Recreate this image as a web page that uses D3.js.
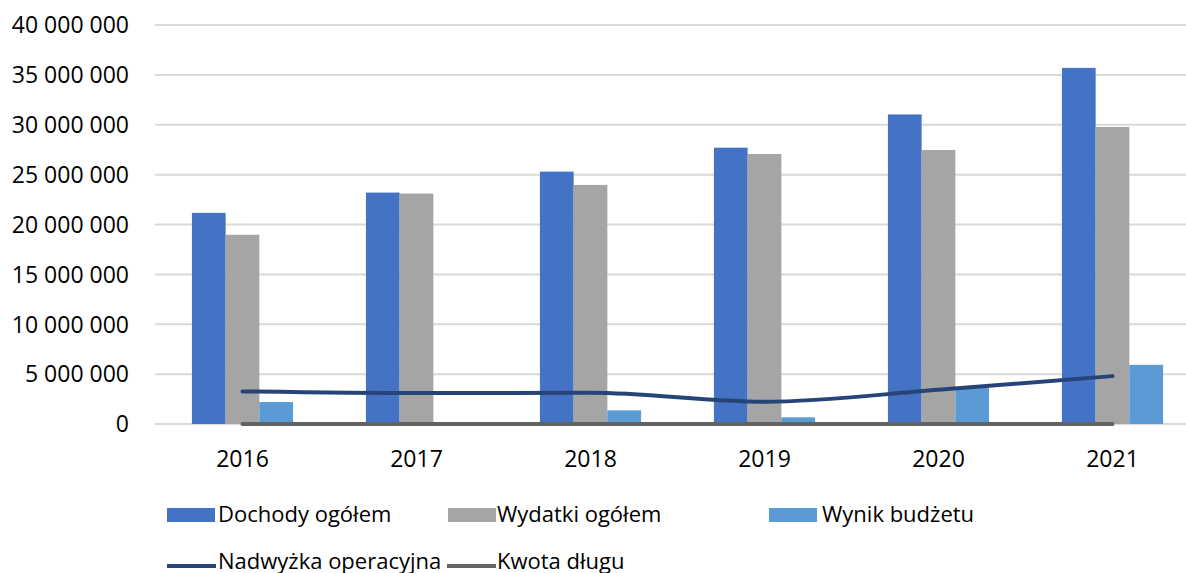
<!DOCTYPE html>
<html>
<head>
<meta charset="utf-8">
<script src="https://cdn.jsdelivr.net/npm/d3@7"></script>
<style>
  body { margin: 0; background: #fff; }
  text { font-family: "Open Sans", sans-serif; fill: #000; }
</style>
</head>
<body>
<div id="vis"></div>
<script>
var years = ['2016', '2017', '2018', '2019', '2020', '2021'];
var dochody = [21170000, 23200000, 25300000, 27700000, 31030000, 35700000];
var wydatki = [18970000, 23100000, 23970000, 27070000, 27470000, 29770000];
var wynik = [2200000, 0, 1370000, 670000, 3630000, 5930000];
var nadwyzka = [3270000, 3100000, 3130000, 2230000, 3430000, 4800000];
var kwotaDlugu = [0, 0, 0, 0, 0, 0];
var yTicks = [0, 5000000, 10000000, 15000000, 20000000, 25000000, 30000000, 35000000, 40000000];

var barSeries = [
    { name: 'Dochody ogółem', values: dochody, color: '#4472C4' },
    { name: 'Wydatki ogółem', values: wydatki, color: '#A5A5A5' },
    { name: 'Wynik budżetu', values: wynik, color: '#5B9BD5' }
];
var lineSeries = [
    { name: 'Nadwyżka operacyjna', values: nadwyzka, color: '#264478' },
    { name: 'Kwota długu', values: kwotaDlugu, color: '#636363' }
];

var width = 1186;
var height = 573;

var svg = d3.select('#vis')
            .append('svg')
            .attr('width', width)
            .attr('height', height);

var xScale = d3.scaleBand()
                .domain(years)
                .range([155.5, 1199.5]);

var x1 = d3.scaleBand()
            .domain(barSeries.map(function(d) { return d.name; }))
            .range([0, xScale.bandwidth()])
            .paddingOuter(1.08);

var yScale = d3.scaleLinear()
                .domain([0, 40000000])
                .range([424, 25]);

var fmt = function(v) { return d3.format(',')(v).replace(/,/g, ' '); };

// gridlines
svg.append('g')
    .selectAll('line')
    .data(yTicks)
    .enter()
    .append('line')
    .attr('x1', 155)
    .attr('x2', width)
    .attr('y1', function(d) { return yScale(d); })
    .attr('y2', function(d) { return yScale(d); })
    .attr('stroke', '#D9D9D9')
    .attr('stroke-width', 2);

// y axis labels
svg.append('g')
    .selectAll('text')
    .data(yTicks)
    .enter()
    .append('text')
    .attr('x', 129)
    .attr('y', function(d) { return yScale(d); })
    .attr('dy', '0.36em')
    .attr('text-anchor', 'end')
    .style('font-size', '23px')
    .text(fmt);

// x axis labels
svg.append('g')
    .selectAll('text')
    .data(years)
    .enter()
    .append('text')
    .attr('x', function(d) { return xScale(d) + xScale.bandwidth() / 2; })
    .attr('y', 467)
    .attr('text-anchor', 'middle')
    .style('font-size', '23px')
    .text(function(d) { return d; });

// bars
var groups = svg.append('g')
    .selectAll('g')
    .data(barSeries)
    .enter()
    .append('g')
    .attr('fill', function(d) { return d.color; });

groups.selectAll('rect')
    .data(function(s) { return s.values.map(function(v, i) { return { name: s.name, year: years[i], value: v }; }); })
    .enter()
    .append('rect')
    .attr('x', function(d) { return xScale(d.year) + x1(d.name); })
    .attr('width', x1.bandwidth())
    .attr('y', function(d) { return yScale(d.value); })
    .attr('height', function(d) { return yScale(0) - yScale(d.value); });

// lines
var line = d3.line()
    .x(function(d, i) { return xScale(years[i]) + xScale.bandwidth() / 2; })
    .y(function(d) { return yScale(d); })
    .curve(d3.curveMonotoneX);

lineSeries.slice().reverse().forEach(function(s) {
    svg.append('path')
        .datum(s.values)
        .attr('fill', 'none')
        .attr('stroke', s.color)
        .attr('stroke-width', 4)
        .attr('stroke-linecap', 'round')
        .attr('d', line);
});

// legend
var legendBars = [
    { x: 167, tx: 218 },
    { x: 448, tx: 497 },
    { x: 769, tx: 822 }
];
barSeries.forEach(function(s, i) {
    var l = legendBars[i];
    svg.append('rect')
        .attr('x', l.x)
        .attr('y', 508)
        .attr('width', 48)
        .attr('height', 14)
        .attr('fill', s.color);
    svg.append('text')
        .attr('x', l.tx)
        .attr('y', 522)
        .style('font-size', '22px')
        .text(s.name);
});

var legendLines = [
    { x: 167, tx: 218 },
    { x: 447, tx: 497 }
];
lineSeries.forEach(function(s, i) {
    var l = legendLines[i];
    svg.append('line')
        .attr('x1', l.x)
        .attr('x2', l.x + 49)
        .attr('y1', 566)
        .attr('y2', 566)
        .attr('stroke', s.color)
        .attr('stroke-width', 4);
    svg.append('text')
        .attr('x', l.tx)
        .attr('y', 569)
        .style('font-size', '22px')
        .text(s.name);
});
</script>
</body>
</html>
